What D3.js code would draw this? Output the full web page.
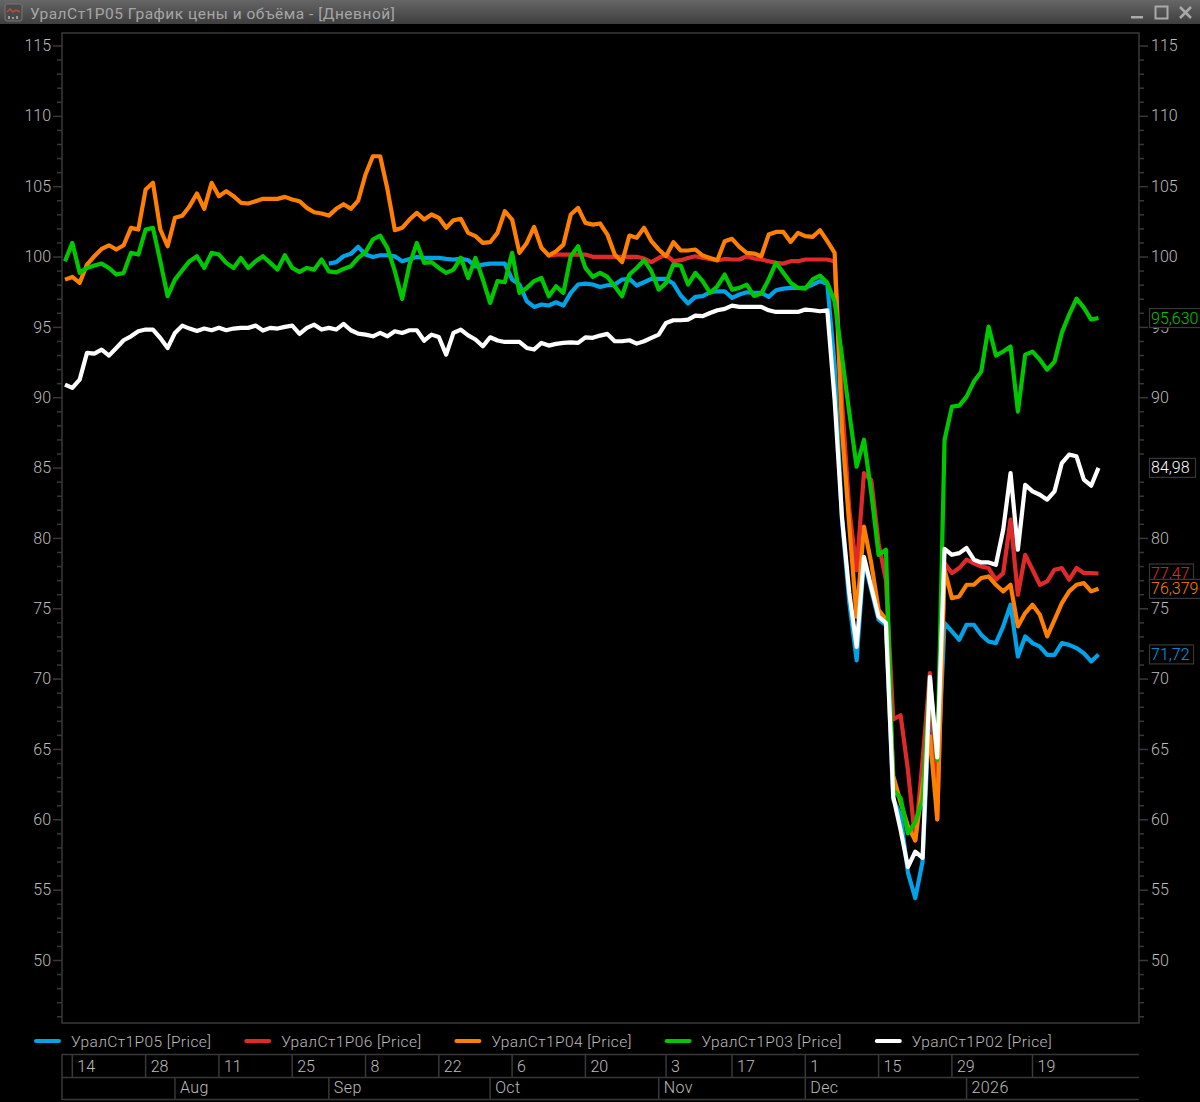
<!DOCTYPE html>
<html><head><meta charset="utf-8">
<script src="https://cdn.jsdelivr.net/npm/d3@7/dist/d3.min.js"></script>
<style>html,body{margin:0;padding:0;background:#000;overflow:hidden}svg{display:block}</style>
</head><body><div id="chart"></div>
<script>
const titleText = "УралСт1Р05 График цены и объёма - [Дневной]";
const seriesNames = ["УралСт1Р05 [Price]","УралСт1Р06 [Price]","УралСт1Р04 [Price]","УралСт1Р03 [Price]","УралСт1Р02 [Price]"];
const seriesColors = ["#00a2e8","#e02a2a","#ff7f00","#00c800","#ffffff"];

const p05 = Array(36).fill(null).concat([
 99.5,99.6,100.02,100.19,100.69,100.14,99.97,100.09,100.09,100.02,99.67,99.83,99.97,99.9,99.9,99.9,99.83,
 99.79,99.86,99.74,99.3,99.43,99.5,99.5,99.5,98.37,98.01,96.82,96.42,96.59,96.52,96.75,96.52,97.42,98.01,98.08,98.01,97.84,97.96,98.01,98.37,98.41,97.94,98.17,98.41,98.41,98.41,98.08,97.23,96.66,97.13,97.18,97.46,97.53,97.53,97.06,97.3,97.46,97.42,97.42,97.13,97.6,97.72,97.77,97.77,97.77,98.01,98.25,98.06,
 92.3,81.3,75.4,71.3,78.45,76.3,74.2,73.8,61.4,60.3,56.2,54.4,57,68.5,62.8,
 73.94,73.35,72.76,73.83,73.83,73.11,72.64,72.52,73.71,75.25,71.57,73,72.52,72.28,71.69,71.69,72.52,72.4,72.17,71.81,71.22,71.72]);

const p06 = Array(66).fill(null).concat([
 100.07,100.14,100.14,100.14,100.14,100.14,99.98,99.98,99.98,99.98,99.98,99.98,99.98,99.86,99.6,99.9,100.14,99.67,99.74,99.9,100.02,99.9,99.83,99.72,99.83,99.79,99.79,100.02,99.86,99.79,99.67,99.55,99.5,99.67,99.67,99.79,99.79,99.79,99.79,99.64,
 89.8,82,77.7,84.6,84.1,79.6,77,67.1,67.4,63.5,58.5,64.2,70.4,60,
 78.2,77.5,77.86,78.45,78.2,77.97,77.86,77.03,77.5,81.3,75.96,78.8,77.74,76.67,76.91,77.74,77.86,77.03,77.86,77.5,77.5,77.47]);

const p04 = [
 98.36,98.55,98.13,99.43,100.02,100.54,100.8,100.5,100.8,102.04,101.92,104.76,105.24,101.92,100.73,102.75,102.9,103.58,104.48,103.39,105.24,104.29,104.65,104.29,103.82,103.77,103.93,104.1,104.1,104.1,104.24,104.05,103.93,103.46,103.15,103.06,102.91,103.39,103.72,103.39,103.98,105.83,107.13,107.13,104.76,101.87,102.04,102.63,103.1,102.63,102.99,
 102.75,102.04,102.58,102.68,101.68,101.45,100.97,101.02,101.68,103.22,102.63,100.26,100.97,102.11,100.62,100.07,100.38,100.85,102.99,103.46,102.39,102.27,102.35,101.56,100.14,99.6,101.49,101.33,102.04,101.09,100.5,100.02,101.02,100.43,100.43,100.5,100.07,99.9,99.74,101.09,101.26,100.69,100.26,100.21,100.02,101.56,101.75,101.75,101.04,101.68,101.45,101.4,101.87,101.09,100.26,
 87.7,80.9,74.4,80.8,78.2,74.9,74.2,63.1,61.2,59.5,58.5,62.4,65.9,60,
 77.74,75.72,75.84,76.67,76.67,77.15,77.26,76.67,76.2,76.67,73.71,74.66,75.25,74.54,73,74.18,75.37,76.2,76.67,76.79,76.2,76.38];

const p03 = [
 99.67,100.97,98.84,99.19,99.36,99.5,99.19,98.72,98.84,100.26,100.14,101.92,102.04,99.67,97.18,98.36,99.03,99.67,100.02,99.19,100.26,100.14,99.55,99.19,99.9,99.19,99.67,100.02,99.55,99.07,100.09,99.19,98.91,99.19,99.07,99.79,98.95,98.88,99.12,99.31,99.9,100.31,101.21,101.49,100.59,98.96,96.99,99.43,100.97,99.55,99.6,99.19,
 98.84,99.07,99.91,98.48,99.9,98.37,96.7,98.25,98.17,100.26,97.42,97.77,98.25,98.48,97.18,97.89,97.42,100.02,100.73,99.19,98.55,98.84,98.55,97.89,97.18,98.72,99.19,99.74,98.96,97.65,98.13,99.43,99.36,98.01,98.84,98.25,97.42,97.89,98.72,97.65,97.77,98,97.2,97.37,98.37,99.55,98.84,98.13,97.77,97.72,98.37,98.65,98.13,96.8,
 92.9,88.9,85.06,86.98,83.2,78.8,79.16,62.1,61.5,59,59.8,61.4,69.9,64.2,
 86.98,89.33,89.4,90.04,91.11,91.82,95.02,92.96,93.25,93.6,88.98,93.03,93.24,92.67,91.96,92.53,94.59,95.87,97.01,96.37,95.52,95.63];

const p02 = [
 90.9,90.66,91.25,93.15,93.1,93.38,92.96,93.5,94.05,94.33,94.69,94.81,94.81,94.21,93.5,94.57,95.09,94.88,94.71,94.88,94.76,94.93,94.76,94.88,94.93,94.93,95.09,94.74,94.93,94.88,95,95.09,94.5,94.93,95.16,94.81,94.93,94.81,95.21,94.76,94.52,94.45,94.33,94.57,94.33,94.69,94.57,94.76,94.76,94.02,94.45,94.28,
 93.03,94.57,94.81,94.4,94.1,93.62,94.26,94.03,93.93,93.93,93.93,93.5,93.39,93.86,93.67,93.79,93.86,93.9,93.86,94.26,94.22,94.38,94.5,93.98,93.98,94.05,93.81,93.98,94.22,94.45,95.28,95.47,95.47,95.52,95.8,95.76,95.99,96.18,96.28,96.51,96.42,96.42,96.42,96.42,96.18,96.06,96.06,96.06,96.06,96.23,96.18,96.11,96.18,
 89.8,81.5,76.1,72.26,78.66,76.5,74.4,73.97,61.6,59.25,56.6,57.7,57.26,70.13,64.4,
 79.23,78.8,78.92,79.28,78.45,78.26,78.26,78.09,80.58,84.61,79.16,83.78,83.31,83.07,82.72,83.31,85.32,85.92,85.8,84.14,83.71,84.98];

const allSeries = [p05,p06,p04,p03,p02];
const priceTicks = [50,55,60,65,70,75,80,85,90,95,100,105,110,115];
const rightPriceTicks = [50,55,60,65,70,75,80,90,95,100,105,110,115];
const minorTicks = d3.range(46,116).filter(v => v % 5 !== 0);
const dayTickIndex = [1,11,21,31,41,51,61,71,82,91,101,111,121,132];
const dayTickLabels = ["14","28","11","25","8","22","6","20","3","17","1","15","29","19"];
const monthTickIndex = [15,36,58,81,101,123];
const monthTickLabels = ["Aug","Sep","Oct","Nov","Dec","2026"];
const lastLabels = [
 {t:"71,72",v:71.72,c:"#00a2e8",w:44},
 {t:"77,47",v:77.47,c:"#e02a2a",w:44},
 {t:"84,98",v:84.98,c:"#ffffff",w:46},
 {t:"95,630",v:95.63,c:"#00c800",w:52},
 {t:"76,379",v:76.379,c:"#ff7f00",w:52}];

const W=1200,H=1102;
const plot={l:62,r:1139,t:33,b:1023};
const FONT="Roboto, 'Liberation Sans', sans-serif";
const grid="#383838", txt="#bcbcbc";
const svg=d3.select("#chart").append("svg").attr("width",W).attr("height",H).style("background","#000");
const defs=svg.append("defs");
const g0=defs.append("linearGradient").attr("id","tb").attr("x1",0).attr("x2",0).attr("y1",0).attr("y2",1);
g0.append("stop").attr("offset",0).attr("stop-color","#666");
g0.append("stop").attr("offset",1).attr("stop-color","#3e3e3e");
defs.append("clipPath").attr("id","pc").append("rect").attr("x",plot.l).attr("y",plot.t).attr("width",plot.r-plot.l).attr("height",plot.b-plot.t);

// title bar
svg.append("rect").attr("width",W).attr("height",24).attr("fill","url(#tb)");
const ic=svg.append("g");
ic.append("rect").attr("x",5).attr("y",4).attr("width",17).attr("height",17).attr("rx",2).attr("fill","#4a4a4a").attr("stroke","#777");
ic.append("path").attr("d","M7 12 L10 9 L13 12 L16 10 L20 12").attr("fill","none").attr("stroke","#b8503c").attr("stroke-width",1.5);
ic.append("path").attr("d","M9 19v-3M13 19v-2M17 19v-3").attr("stroke","#999").attr("stroke-width",2);
svg.append("text").text(titleText).attr("x",30).attr("y",18.5).attr("fill","#a6a6a6").attr("font-family",FONT).attr("font-size",15.5).attr("letter-spacing",0.5);
svg.append("rect").attr("x",1131).attr("y",16).attr("width",12).attr("height",2.5).attr("fill","#aaa");
svg.append("rect").attr("x",1155.5).attr("y",6.5).attr("width",12).attr("height",12).attr("fill","none").attr("stroke","#aaa").attr("stroke-width",2);
svg.append("path").attr("d","M1180 7 L1191 18 M1191 7 L1180 18").attr("stroke","#aaa").attr("stroke-width",2.5);

const y=d3.scaleLinear().domain([50,115]).range([960,45.5]);
const x=d3.scaleLinear().domain([0,141]).range([65,1098.5]);

svg.append("rect").attr("x",plot.l).attr("y",plot.t).attr("width",plot.r-plot.l).attr("height",plot.b-plot.t).attr("fill","none").attr("stroke",grid).attr("stroke-width",1.5);

function styleAxis(a){a.select(".domain").remove();a.selectAll("line").attr("stroke",grid).attr("stroke-width",1.5);
 a.selectAll("text").attr("fill",txt).attr("font-family",FONT).attr("font-size",16).attr("font-weight",300);}
const fmt=d=>String(d);
styleAxis(svg.append("g").attr("transform",`translate(${plot.l},0)`).call(d3.axisLeft(y).tickValues(priceTicks).tickFormat(fmt).tickSize(9).tickPadding(2)));
styleAxis(svg.append("g").attr("transform",`translate(${plot.l},0)`).call(d3.axisLeft(y).tickValues(minorTicks).tickFormat("").tickSize(5)));
styleAxis(svg.append("g").attr("transform",`translate(${plot.r},0)`).call(d3.axisRight(y).tickValues(rightPriceTicks).tickFormat(fmt).tickSize(9).tickPadding(3)));
styleAxis(svg.append("g").attr("transform",`translate(${plot.r},0)`).call(d3.axisRight(y).tickValues(minorTicks).tickFormat("").tickSize(5)));

// lines
const line=d3.line().defined(d=>d!==null).x((d,i)=>x(i)).y(d=>y(d));
svg.append("g").attr("clip-path","url(#pc)").selectAll("path").data(allSeries).join("path")
 .attr("d",line).attr("fill","none").attr("stroke",(d,i)=>seriesColors[i]).attr("stroke-width",4.2).attr("stroke-linejoin","round");

// last-value boxes
const lb=svg.append("g").selectAll("g").data(lastLabels).join("g").attr("transform",d=>`translate(1149,${y(d.v)})`);
lb.append("rect").attr("x",0.5).attr("y",-9.5).attr("width",d=>d.w).attr("height",19).attr("fill","#000").attr("stroke",grid).attr("stroke-width",1.2);
lb.append("text").text(d=>d.t).attr("x",2).attr("y",5.5).attr("fill",d=>d.c).attr("font-family",FONT).attr("font-size",16).attr("font-weight",300);

// legend
const lg=svg.append("g").selectAll("g").data(seriesNames).join("g").attr("transform",(d,i)=>`translate(${35+i*210.2},1041)`);
lg.append("line").attr("x1",1).attr("x2",24).attr("stroke",(d,i)=>seriesColors[i]).attr("stroke-width",4).attr("stroke-linecap","round");
lg.append("text").text(d=>d).attr("x",36).attr("y",5.5).attr("fill",txt).attr("font-family",FONT).attr("font-size",15.5).attr("font-weight",300).attr("letter-spacing",0.42);

// date axis
const ax=svg.append("g").attr("stroke",grid).attr("stroke-width",1.5);
[1054.5,1077.5,1099.5].forEach(v=>ax.append("line").attr("x1",plot.l).attr("x2",plot.r).attr("y1",v).attr("y2",v));
ax.append("line").attr("x1",plot.l).attr("x2",plot.l).attr("y1",1054).attr("y2",1100);
dayTickIndex.forEach(i=>ax.append("line").attr("x1",x(i)).attr("x2",x(i)).attr("y1",1054).attr("y2",1077));
monthTickIndex.forEach(i=>ax.append("line").attr("x1",x(i)).attr("x2",x(i)).attr("y1",1077).attr("y2",1100));
svg.append("g").selectAll("text").data(dayTickIndex).join("text").text((d,i)=>dayTickLabels[i]).attr("x",d=>x(d)+5).attr("y",1072).attr("fill",txt).attr("font-family",FONT).attr("font-size",16).attr("font-weight",300);
svg.append("g").selectAll("text").data(monthTickIndex).join("text").text((d,i)=>monthTickLabels[i]).attr("x",d=>x(d)+5).attr("y",1093).attr("fill",txt).attr("font-family",FONT).attr("font-size",16).attr("font-weight",300).attr("letter-spacing",0.4);
</script></body></html>
